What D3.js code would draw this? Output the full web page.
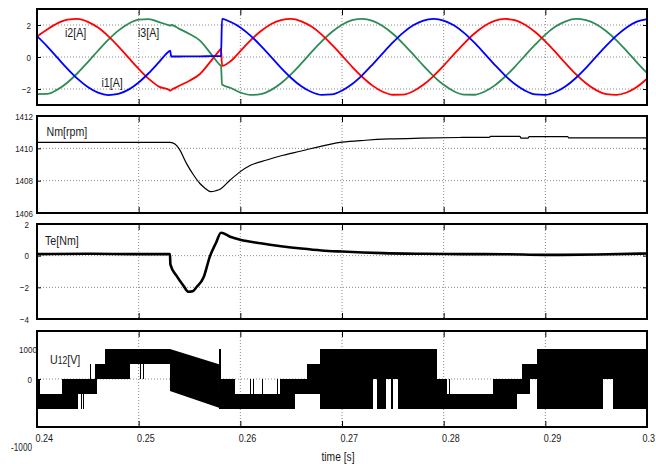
<!DOCTYPE html>
<html>
<head>
<meta charset="utf-8">
<title>Motor transient</title>
<script src="https://cdn.jsdelivr.net/npm/d3@7"></script>
<style>
body { margin: 0; background: #fff; }
svg text { font-family: "Liberation Sans", Arial, sans-serif; fill: #1a1a1a; }
</style>
</head>
<body>
<div id="chart"></div>
<script>
// time axis ticks [s]
var timeTicks = [0.24, 0.25, 0.26, 0.27, 0.28, 0.29, 0.3];

// phase currents [A]
var tCur = [0.240, 0.241, 0.242, 0.243, 0.244, 0.245, 0.246, 0.247, 0.248, 0.249,
            0.250, 0.251, 0.252, 0.253, 0.2531, 0.2532, 0.254, 0.255, 0.256, 0.257,
            0.258, 0.2581, 0.2582, 0.259, 0.260, 0.261, 0.262, 0.263, 0.264, 0.265,
            0.266, 0.267, 0.268, 0.269, 0.270, 0.271, 0.272, 0.273, 0.274, 0.275,
            0.276, 0.277, 0.278, 0.279, 0.280, 0.281, 0.282, 0.283, 0.284, 0.285,
            0.286, 0.287, 0.288, 0.289, 0.290, 0.291, 0.292, 0.293, 0.294, 0.295,
            0.296, 0.297, 0.298, 0.299, 0.300];
var i1 = [1.31, 0.67, -0.04, -0.74, -1.37, -1.88, -2.23, -2.38, -2.31, -2.04,
          -1.59, -1.00, -0.32, 0.36, 0.40, 0.03, 0.03, 0.04, 0.04, 0.05,
          0.06, 0.06, 2.38, 2.20, 1.85, 1.34, 0.71, 0.02, -0.68, -1.31,
          -1.83, -2.19, -2.37, -2.34, -2.10, -1.69, -1.13, -0.47, 0.23, 0.91,
          1.51, 1.98, 2.28, 2.38, 2.28, 1.98, 1.51, 0.91, 0.23, -0.47,
          -1.13, -1.69, -2.10, -2.34, -2.37, -2.19, -1.83, -1.31, -0.68, 0.02,
          0.71, 1.34, 1.85, 2.21, 2.37];
var i2 = [1.28, 1.72, 2.10, 2.33, 2.38, 2.20, 1.84, 1.31, 0.67, -0.04,
          -0.74, -1.37, -1.85, -2.06, -2.10, -2.06, -1.80, -1.48, -1.08, -0.34,
          0.45, 0.52, -0.55, -0.28, 0.37, 1.04, 1.61, 2.05, 2.31, 2.38,
          2.23, 1.90, 1.40, 0.77, 0.09, -0.61, -1.25, -1.79, -2.17, -2.36,
          -2.35, -2.14, -1.74, -1.19, -0.54, 0.16, 0.84, 1.45, 1.94, 2.26,
          2.38, 2.30, 2.02, 1.56, 0.97, 0.30, -0.40, -1.07, -1.64, -2.07,
          -2.32, -2.37, -2.22, -1.88, -1.36];
var i3 = [-2.32, -2.31, -2.04, -1.59, -1.00, -0.32, 0.39, 1.07, 1.65, 2.08,
          2.33, 2.37, 2.18, 1.98, 1.96, 2.00, 1.76, 1.44, 1.04, 0.29,
          -0.50, -0.56, -1.72, -1.92, -2.22, -2.37, -2.32, -2.07, -1.64, -1.07,
          -0.40, 0.30, 0.97, 1.56, 2.02, 2.30, 2.38, 2.26, 1.94, 1.45,
          0.84, 0.16, -0.54, -1.19, -1.74, -2.14, -2.35, -2.36, -2.17, -1.79,
          -1.25, -0.61, 0.09, 0.77, 1.40, 1.90, 2.23, 2.38, 2.31, 2.05,
          1.61, 1.04, 0.37, -0.33, -1.00];

// rotor speed [rpm]
var tSpeed = [0.240, 0.2531, 0.2536, 0.2540, 0.2547, 0.2554, 0.2560, 0.2565, 0.2571, 0.2576,
              0.2580, 0.2590, 0.2600, 0.2610, 0.2626, 0.2642, 0.2659, 0.2688, 0.2700, 0.2723,
              0.2747, 0.2777, 0.2815, 0.2845, 0.2846, 0.2875, 0.2876, 0.2883, 0.2884, 0.2922,
              0.2923, 0.3000];
var speed = [1410.37, 1410.37, 1410.25, 1409.95, 1409.07, 1408.35, 1407.84, 1407.55, 1407.32, 1407.38,
             1407.47, 1408.04, 1408.56, 1408.95, 1409.28, 1409.57, 1409.82, 1410.25, 1410.38, 1410.5,
             1410.58, 1410.63, 1410.67, 1410.68, 1410.74, 1410.74, 1410.63, 1410.63, 1410.72, 1410.72,
             1410.65, 1410.65];

// electromagnetic torque [Nm]
var tTorque = [0.240, 0.245, 0.250, 0.2530, 0.25308, 0.25312, 0.2537, 0.2544, 0.2549, 0.2553,
               0.2557, 0.2564, 0.2570, 0.2576, 0.2581, 0.2590, 0.2600, 0.2620, 0.2640, 0.2660,
               0.2680, 0.2700, 0.2740, 0.2780, 0.2820, 0.2860, 0.2900, 0.2950, 0.3000];
var torque = [0.10, 0.12, 0.10, 0.10, 0.10, -0.55, -1.25, -1.89, -2.28, -2.25,
              -1.98, -1.35, -0.06, 0.80, 1.45, 1.20, 1.00, 0.78, 0.60, 0.45,
              0.33, 0.26, 0.16, 0.12, 0.10, 0.09, 0.05, 0.07, 0.14];

// line voltage U12: switching envelope blocks (start, end, low level, high level)
var uStart = [0.2400, 0.2403, 0.24246, 0.24403, 0.24430, 0.24450, 0.24520, 0.24570, 0.24590, 0.24669,
              0.24915, 0.25013, 0.25043, 0.25790, 0.25810, 0.25947, 0.26095, 0.26125, 0.26213, 0.26361,
              0.26390, 0.26538, 0.26656, 0.26784, 0.27305, 0.27344, 0.27433, 0.27482, 0.27502, 0.27551,
              0.27934, 0.28033, 0.28050, 0.28485, 0.28718, 0.28767, 0.28849, 0.28918, 0.29567, 0.29665];
var uEnd   = [0.2403, 0.24246, 0.24403, 0.24570, 0.24438, 0.24458, 0.24535, 0.24590, 0.24669, 0.24915,
              0.25308, 0.25020, 0.25050, 0.25810, 0.25947, 0.26390, 0.26103, 0.26133, 0.26223, 0.26375,
              0.26538, 0.26656, 0.26784, 0.27305, 0.27344, 0.27433, 0.27482, 0.27502, 0.27551, 0.27934,
              0.28033, 0.28485, 0.28058, 0.28718, 0.28767, 0.28849, 0.28918, 0.29567, 0.29665, 0.3000];
var uLow   = [-1000, -1000, -1000, -500, -1000, -1000, -500, -500, 0, 0,
              500, 0, 0, -1000, -1000, -1000, -1000, -1000, -1000, -1000,
              -1000, -500, -500, -1000, 0, -1000, 0, -1000, 0, -1000,
              -1000, -1000, -1000, -1000, -500, -500, 0, -1000, 0, -1000];
var uHigh  = [0, -500, 0, 0, 0, 0, 500, 500, 500, 1000,
              1000, 1000, 1000, 1000, 0, -500, 0, 0, 0, 0,
              0, 0, 500, 1000, 1000, 1000, 1000, 1000, 1000, 1000,
              0, -500, 0, 0, 0, 500, 500, 1000, 1000, 1000];
// sloped block while phase 1 is open
var rampT = [0.25308, 0.25790];
var rampLow = [-400, -960];
var rampHigh = [1000, 490];

var width = 656, height = 464;
var left = 37, right = 647;
var narrow = "scale(0.82,1)";   // fake a narrow face

var svg = d3.select("#chart")
  .append("svg")
    .attr("width", width)
    .attr("height", height);

var x = d3.scaleLinear()
    .domain([0.24, 0.3])
    .range([left, right]);

var inner = timeTicks.slice(1, -1);

// Panel layout, top to bottom
var panels = [
  {top: 9, bottom: 105, domain: [-3, 3], labels: [-2, 0, 2], grid: [-2, 0, 2], labelX: 31},
  {top: 116, bottom: 213, domain: [1406, 1412], labels: [1406, 1408, 1410, 1412], grid: [1408, 1410], labelX: 33},
  {top: 224, bottom: 319, domain: [-4, 2], labels: [-4, -2, 0, 2], grid: [-2, 0], labelX: 29},
  {top: 331, bottom: 427, domain: [-1600, 1600], labels: [0, 1000], grid: [0], labelX: 32}
];

panels.forEach(function(p, k) {
    p.y = d3.scaleLinear().domain(p.domain).range([p.bottom, p.top]);
    p.g = svg.append("g");

    svg.append("clipPath")
        .attr("id", "clip" + k)
      .append("rect")
        .attr("x", left)
        .attr("y", p.top)
        .attr("width", right - left)
        .attr("height", p.bottom - p.top);

    // dotted grid
    p.g.selectAll(".hgrid")
        .data(p.grid)
        .enter().append("line")
        .attr("x1", left).attr("x2", right)
        .attr("y1", function(d) { return p.y(d); })
        .attr("y2", function(d) { return p.y(d); })
        .attr("stroke", "#8a8a8a")
        .attr("stroke-dasharray", "1,2");

    p.g.selectAll(".vgrid")
        .data(inner)
        .enter().append("line")
        .attr("x1", function(d) { return x(d); })
        .attr("x2", function(d) { return x(d); })
        .attr("y1", p.top).attr("y2", p.bottom)
        .attr("stroke", "#8a8a8a")
        .attr("stroke-dasharray", "1,2");

    p.plot = p.g.append("g").attr("clip-path", "url(#clip" + k + ")");
});

// Currents
var pc = panels[0];
var curLine = d3.line()
    .x(function(d, i) { return x(tCur[i]); })
    .y(function(d) { return pc.y(d); })
    .curve(d3.curveMonotoneX);

[[i3, "#2e8b57"], [i2, "#ff0000"], [i1, "#0000ff"]].forEach(function(s) {
    pc.plot.append("path")
        .attr("d", curLine(s[0]))
        .attr("fill", "none")
        .attr("stroke", s[1])
        .attr("stroke-width", 1.8);
});

// Speed
var ps = panels[1];
ps.plot.append("path")
    .attr("d", d3.line()
        .x(function(d, i) { return x(tSpeed[i]); })
        .y(function(d) { return ps.y(d); })
        .curve(d3.curveMonotoneX)(speed))
    .attr("fill", "none")
    .attr("stroke", "#000")
    .attr("stroke-width", 1.2);

// Torque
var pt = panels[2];
pt.plot.append("path")
    .attr("d", d3.line()
        .x(function(d, i) { return x(tTorque[i]); })
        .y(function(d) { return pt.y(d); })
        .curve(d3.curveMonotoneX)(torque))
    .attr("fill", "none")
    .attr("stroke", "#000")
    .attr("stroke-width", 2.6);

// Line voltage envelope
var pu = panels[3];
pu.plot.selectAll(".blk")
    .data(uStart)
    .enter().append("rect")
    .attr("x", function(d) { return x(d); })
    .attr("width", function(d, i) { return Math.max(1, x(uEnd[i]) - x(d)); })
    .attr("y", function(d, i) { return pu.y(uHigh[i]); })
    .attr("height", function(d, i) { return pu.y(uLow[i]) - pu.y(uHigh[i]); })
    .attr("fill", "#000")
    .attr("shape-rendering", "crispEdges");

pu.plot.append("path")
    .attr("d", d3.area()
        .x(function(d) { return x(d); })
        .y0(function(d, i) { return pu.y(rampLow[i]); })
        .y1(function(d, i) { return pu.y(rampHigh[i]); })(rampT))
    .attr("fill", "#000");

// Frames, inward ticks and y labels
panels.forEach(function(p) {
    var g = svg.append("g");

    g.append("g")
        .attr("transform", "translate(0," + p.top + ")")
        .call(d3.axisBottom(x).tickValues(inner).tickSize(6).tickFormat(""));
    g.append("g")
        .attr("transform", "translate(0," + p.bottom + ")")
        .call(d3.axisTop(x).tickValues(inner).tickSize(6).tickFormat(""));
    g.append("g")
        .attr("transform", "translate(" + left + ",0)")
        .call(d3.axisRight(p.y).tickValues(p.grid).tickSize(4).tickFormat(""));
    g.append("g")
        .attr("transform", "translate(" + right + ",0)")
        .call(d3.axisLeft(p.y).tickValues(p.grid).tickSize(4).tickFormat(""));
    g.selectAll(".domain").remove();

    g.append("rect")
        .attr("x", left).attr("y", p.top)
        .attr("width", right - left).attr("height", p.bottom - p.top)
        .attr("fill", "none")
        .attr("stroke", "#000")
        .attr("stroke-width", 2);

    var ya = svg.append("g")
        .attr("transform", "translate(" + p.labelX + ",0)")
        .call(d3.axisLeft(p.y).tickValues(p.labels).tickSize(0).tickPadding(0)
            .tickFormat(d3.format("d")));
    ya.select(".domain").remove();
    ya.selectAll("text")
        .attr("transform", narrow)
        .attr("font-size", 9.8)
        .attr("font-family", null);
});

// the 1000 label sits a little right, -1000 is printed under the frame
svg.selectAll("text").filter(function() { return this.textContent == "1000"; })
    .attr("dx", 6);
svg.append("text")
    .attr("transform", "translate(32,450.5) " + narrow)
    .attr("text-anchor", "end")
    .attr("font-size", 10)
    .text("-1000");

// x tick labels
var xa = svg.append("g")
    .attr("transform", "translate(0,434)")
    .call(d3.axisBottom(x).tickValues(timeTicks).tickSize(0).tickPadding(0)
        .tickFormat(d3.format("")));
xa.select(".domain").remove();
xa.selectAll("text")
    .attr("text-anchor", "start")
    .attr("transform", narrow)
    .attr("dx", function(d) { return d == 0.3 ? -6 : -2.5; })
    .attr("font-size", 11)
    .attr("font-family", null);

svg.append("text")
    .attr("transform", "translate(321.5,461) " + narrow)
    .attr("font-size", 12.5)
    .text("time [s]");

// Signal names
var names = [
  ["i2[A]", 65, 37], ["i3[A]", 138, 37], ["i1[A]", 101.5, 87],
  ["Nm[rpm]", 46.5, 136], ["Te[Nm]", 45, 245]
];
names.forEach(function(n) {
    svg.append("text")
        .attr("transform", "translate(" + n[1] + "," + n[2] + ") " + narrow)
        .attr("font-size", 13)
        .text(n[0]);
});

var u = svg.append("text")
    .attr("transform", "translate(50,364) " + narrow)
    .attr("font-size", 13);
u.append("tspan").text("U");
u.append("tspan").attr("font-size", 10.5).text("12");
u.append("tspan").text("[V]");
</script>
</body>
</html>
